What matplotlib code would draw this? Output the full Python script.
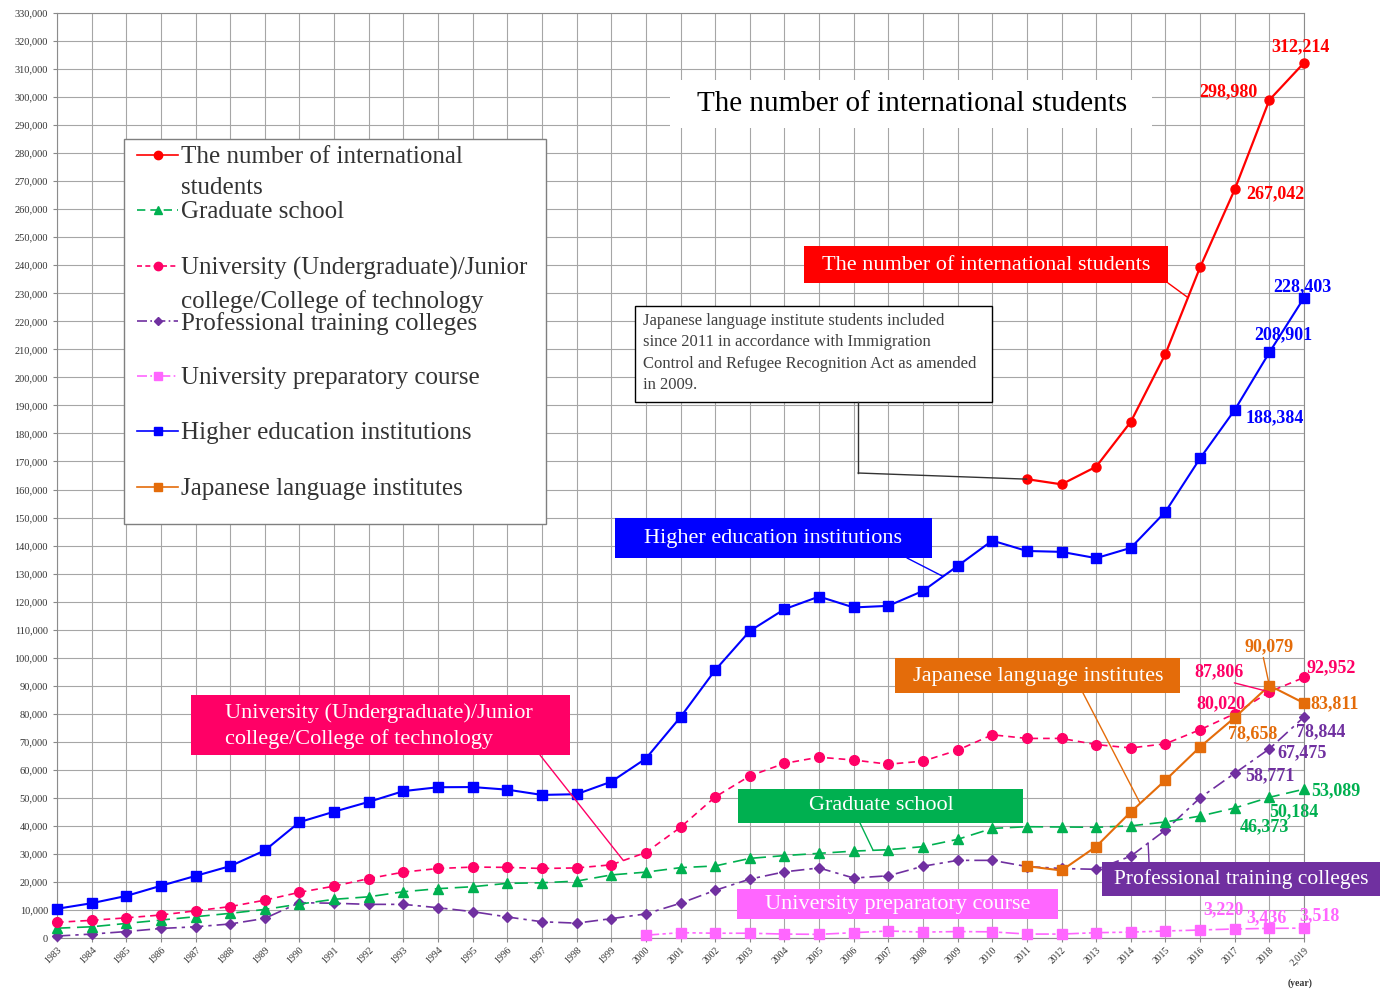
import numpy as np
import matplotlib
matplotlib.use("Agg")
import matplotlib.pyplot as plt
from matplotlib.lines import Line2D
from matplotlib.patches import Rectangle
from matplotlib.ticker import FuncFormatter

plt.rcParams['font.family'] = ['Liberation Serif', 'DejaVu Serif']

# data
years = list(range(1983, 2020))
higher_ed = [10428, 12410, 15009, 18631, 22154, 25643, 31251, 41347, 45066,
             48561, 52405, 53787, 53847, 52921, 51047, 51298, 55755, 64011, 78812,
             95550, 109508, 117302, 121812, 117927, 118498, 123829, 132720, 141774, 138075,
             137756, 135519, 139185, 152062, 171122, 188384, 208901, 228403]
graduate = [3500, 4000, 5200, 6400, 7600, 8800, 10200, 12100, 13800,
            14700, 16500, 17600, 18300, 19500, 19700, 20300, 22500, 23500, 25100,
            25700, 28400, 29400, 30200, 31000, 31500, 32600, 35200, 39100, 39700,
            39600, 39500, 40000, 41400, 43500, 46373, 50184, 53089]
university = [5600, 6300, 7200, 8200, 9700, 11200, 13500, 16300, 18500,
              21200, 23500, 24800, 25300, 25200, 24800, 25000, 26100, 30500, 39500,
              50300, 57800, 62300, 64500, 63500, 62000, 63100, 67000, 72500, 71200,
              71200, 69000, 67800, 69300, 74300, 80020, 87806, 92952]
professional = [700, 1400, 2300, 3400, 4000, 5000, 7000, 12600, 12400,
                12000, 12000, 10800, 9400, 7500, 5800, 5300, 6900, 8600, 12400,
                17000, 21000, 23600, 25000, 21400, 22200, 25600, 27700, 27700, 25500,
                24800, 24500, 29200, 38500, 50000, 58771, 67475, 78844]
prep_years = list(range(2000, 2020))
prep = [1000, 1900, 1700, 1700, 1400, 1300, 1900, 2500, 2100, 2300,
        2200, 1400, 1400, 1900, 2100, 2500, 2850, 3220, 3436, 3518]
recent_years = list(range(2011, 2020))
total = [163697, 161848, 168145, 184155, 208379, 239287, 267042, 298980, 312214]
japanese = [25622, 24092, 32626, 44970, 56317, 68165, 78658, 90079, 83811]

x_labels = [str(y) for y in years[:-1]] + ['2,019']

RED = '#FF0000'
BLUE = '#0000FF'
PINK = '#FF0066'
GREEN = '#00B050'
PURPLE = '#7030A0'
LPINK = '#FF66FF'
ORANGE = '#E46C0A'

W, H = 1386, 989
fig = plt.figure(figsize=(W / 100, H / 100), dpi=100)


def fx(x):
    return x / W


def fy(y):
    return 1 - y / H


ax = fig.add_axes([fx(57), fy(938), (1304 - 57) / W, (938 - 13) / H])
ax.set_xlim(1983, 2019)
ax.set_ylim(0, 330000)
ax.set_xticks(years)
ax.set_xticklabels(x_labels, rotation=45, ha='right', rotation_mode='anchor',
                   fontsize=7, color='#333333')
ax.set_yticks(np.arange(0, 330001, 10000))
ax.yaxis.set_major_formatter(FuncFormatter(lambda v, p: f'{int(v):,}'))
ax.tick_params(axis='y', labelsize=7.5, labelcolor='#333333', length=3, color='#888888')
ax.tick_params(axis='x', length=3, color='#888888', pad=2)
ax.grid(True, color='#A6A6A6', lw=0.8)
ax.set_axisbelow(True)
for s in ax.spines.values():
    s.set_color('#8C8C8C')

# series
series = [
    (years, higher_ed, BLUE, '-', 's', 7.5, 1.5),
    (years, professional, PURPLE, (0, (8, 3, 2, 3)), 'D', 5, 1.2),
    (years, graduate, GREEN, (0, (8, 4)), '^', 6.5, 1.2),
    (years, university, PINK, (0, (4, 3)), 'o', 7, 1.2),
    (prep_years, prep, LPINK, (0, (8, 2, 2, 2, 2, 2)), 's', 7, 1.2),
    (recent_years, japanese, ORANGE, '-', 's', 7, 1.5),
    (recent_years, total, RED, '-', 'o', 6.5, 1.6),
]
for xs, ys, c, ls, m, ms, lw in series:
    ax.plot(xs, ys, color=c, ls=ls, lw=lw, marker=m, ms=ms, mfc=c, mec=c,
            clip_on=False, zorder=3)

# value labels near the last points
labels = [
    (2019, 312214, '312,214', RED, -3, 16),
    (2018, 298980, '298,980', RED, -41, 8),
    (2017, 267042, '267,042', RED, 41, -4),
    (2019, 228403, '228,403', BLUE, -2, 11),
    (2018, 208901, '208,901', BLUE, 14, 18),
    (2017, 188384, '188,384', BLUE, 40, -8),
    (2018, 90079, '90,079', ORANGE, 0, 39),
    (2019, 92952, '92,952', PINK, 27, 10),
    (2018, 87806, '87,806', PINK, -50, 20),
    (2019, 83811, '83,811', ORANGE, 31, -1),
    (2017, 80020, '80,020', PINK, -14, 10),
    (2017, 78658, '78,658', ORANGE, 18, -16),
    (2019, 78844, '78,844', PURPLE, 17, -15),
    (2018, 67475, '67,475', PURPLE, 33, -4),
    (2017, 58771, '58,771', PURPLE, 35, -2),
    (2019, 53089, '53,089', GREEN, 32, -2),
    (2018, 50184, '50,184', GREEN, 24, -14),
    (2017, 46373, '46,373', GREEN, 30, -19),
    (2017, 3220, '3,220', LPINK, -11, 19),
    (2018, 3436, '3,436', LPINK, -3, 11),
    (2019, 3518, '3,518', LPINK, 16, 12),
]
for xv, yv, txt, c, dx, dy in labels:
    ax.annotate(txt, xy=(xv, yv), xytext=(dx, dy), textcoords='offset pixels',
                ha='center', va='center', color=c, fontsize=13, fontweight='bold',
                zorder=6)

# leader lines for two crowded labels
ax.annotate('', xy=(2018, 90079), xytext=(-6, 28), textcoords='offset pixels',
            arrowprops=dict(arrowstyle='-', color=ORANGE, lw=1, shrinkA=0, shrinkB=0))
ax.annotate('', xy=(2018, 87806), xytext=(-35, 9), textcoords='offset pixels',
            arrowprops=dict(arrowstyle='-', color=PINK, lw=1, shrinkA=0, shrinkB=0))


def box(x0, y0, x1, y1, face, edge=None, lw=0):
    r = Rectangle((fx(x0), fy(y1)), fx(x1) - fx(x0), fy(y0) - fy(y1),
                  transform=fig.transFigure, facecolor=face,
                  edgecolor=edge if edge else face, lw=lw, zorder=4)
    fig.add_artist(r)


def leader(px, py, xv, yv, c):
    ax.annotate('', xy=(xv, yv), xytext=(fx(px), fy(py)), textcoords='figure fraction',
                arrowprops=dict(arrowstyle='-', color=c, lw=1, shrinkA=0, shrinkB=0),
                zorder=5)


def on_line(xs, ys, xv):
    return xv, float(np.interp(xv, xs, ys))


# title
box(670, 80, 1152, 128, 'white')
fig.text(fx(912), fy(104), 'The number of international students', ha='center',
         va='center', fontsize=21, color='black', zorder=5)

# callout boxes
box(804, 246, 1168, 283, RED)
fig.text(fx(986), fy(265), 'The number of international students', ha='center',
         va='center', fontsize=16, color='white', zorder=5)
leader(1168, 283, *on_line(recent_years, total, 2015.65), RED)

box(615, 518, 932, 558, BLUE)
fig.text(fx(773), fy(539), 'Higher education institutions', ha='center',
         va='center', fontsize=16, color='white', zorder=5)
leader(907, 558, *on_line(years, higher_ed, 2008.58), BLUE)

box(191, 695, 570, 755, PINK)
fig.text(fx(225), fy(726), 'University (Undergraduate)/Junior\ncollege/College of technology',
         ha='left', va='center', fontsize=16, color='white', linespacing=1.42, zorder=5)
leader(540, 755, *on_line(years, university, 1999.35), PINK)

box(738, 789, 1023, 823, GREEN)
fig.text(fx(881), fy(806), 'Graduate school', ha='center', va='center',
         fontsize=16, color='white', zorder=5)
leader(860, 823, *on_line(years, graduate, 2006.56), GREEN)

box(737, 889, 1058, 919, LPINK)
fig.text(fx(898), fy(905), 'University preparatory course', ha='center', va='center',
         fontsize=16, color='white', zorder=5)

box(895, 658, 1180, 693, ORANGE)
fig.text(fx(1038), fy(676), 'Japanese language institutes', ha='center', va='center',
         fontsize=16, color='white', zorder=5)
leader(1083, 693, *on_line(recent_years, japanese, 2014.27), ORANGE)

box(1102, 862, 1380, 896, PURPLE)
fig.text(fx(1241), fy(879), 'Professional training colleges', ha='center', va='center',
         fontsize=15.5, color='white', zorder=5)
leader(1149, 862, *on_line(years, professional, 2014.5), PURPLE)

# note box
box(635, 306, 992, 402, 'white', edge='black', lw=1)
fig.text(fx(643), fy(313), 'Japanese language institute students included\n'
         'since 2011 in accordance with Immigration\n'
         'Control and Refugee Recognition Act as amended\n'
         'in 2009.', ha='left', va='top', fontsize=12, color='#404040',
         linespacing=1.45, zorder=5)
fig.add_artist(Line2D([fx(858), fx(858)], [fy(402), fy(473)], color='#333333', lw=1,
                      transform=fig.transFigure, zorder=5))
leader(858, 473, 2011, total[0], '#333333')

# legend
box(124, 139, 546, 524, 'white', edge='#7F7F7F', lw=1)
legend_rows = [
    ('The number of international\nstudents', RED, '-', 'o', 6, 155),
    ('Graduate school', GREEN, (0, (5, 3)), '^', 6, 210),
    ('University (Undergraduate)/Junior\ncollege/College of technology', PINK, (0, (3, 2)), 'o', 6, 266),
    ('Professional training colleges', PURPLE, (0, (6, 2, 1, 2)), 'D', 4.5, 321),
    ('University preparatory course', LPINK, (0, (6, 2, 1, 2, 1, 2)), 's', 6, 376),
    ('Higher education institutions', BLUE, '-', 's', 6, 431),
    ('Japanese language institutes', ORANGE, '-', 's', 6, 487),
]
for txt, c, ls, m, ms, yy in legend_rows:
    fig.add_artist(Line2D([fx(137), fx(178)], [fy(yy), fy(yy)], color=c, ls=ls, lw=1.2,
                          transform=fig.transFigure, zorder=5))
    fig.add_artist(Line2D([fx(158)], [fy(yy)], color=c, marker=m, ms=ms, mec=c, mfc=c,
                          transform=fig.transFigure, zorder=5))
    fig.text(fx(181), fy(yy - 9), txt, ha='left', va='top', fontsize=18,
             color='#333333', linespacing=1.55, zorder=5)

fig.text(fx(1300), fy(983), '(year)', ha='center', va='center', fontsize=7,
         fontweight='bold', color='#333333')

plt.savefig('out.png', dpi=100)
